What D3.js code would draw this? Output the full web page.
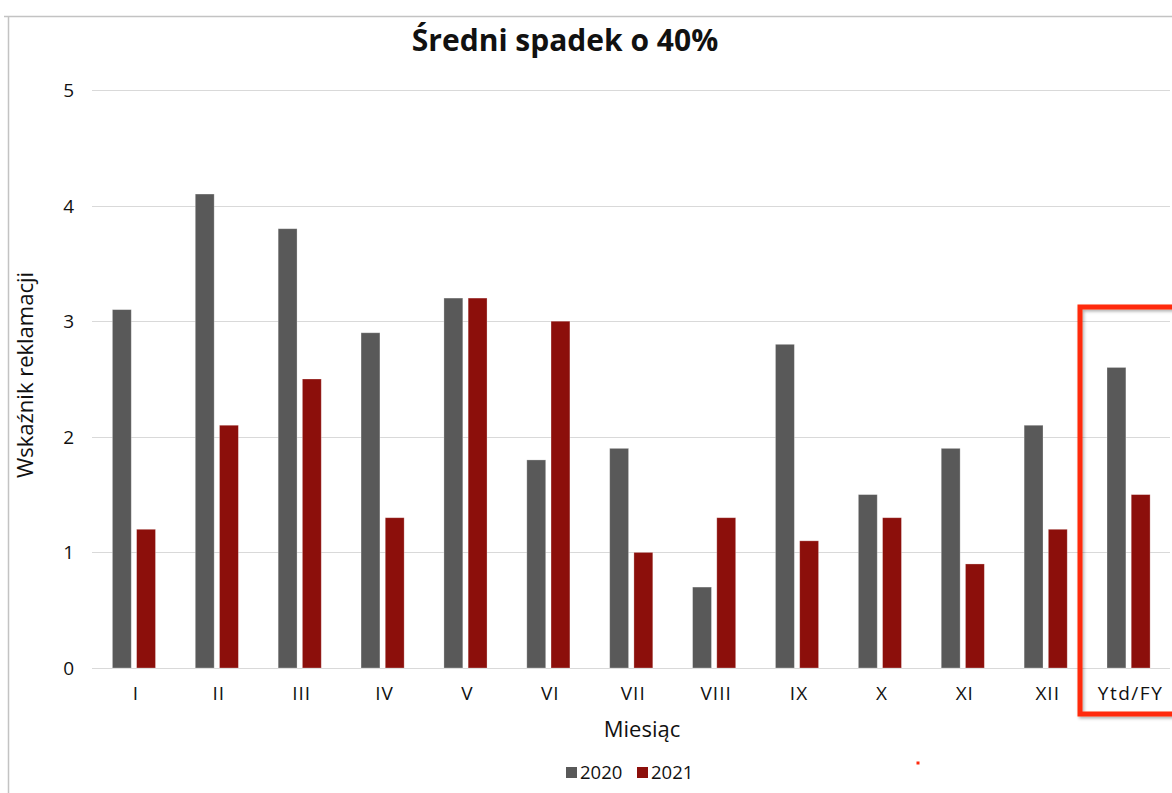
<!DOCTYPE html>
<html>
<head>
<meta charset="utf-8">
<script src="https://cdn.jsdelivr.net/npm/d3@7"></script>
<style>
  body { margin: 0; background: #fff; }
  text { font-family: "Open Sans", "Noto Sans", sans-serif; fill: #111; }
</style>
</head>
<body>
<div id="chart"></div>
<script>
var months = ['I', 'II', 'III', 'IV', 'V', 'VI', 'VII', 'VIII', 'IX', 'X', 'XI', 'XII', 'Ytd/FY']
var series = ['2020', '2021']
var values2020 = [3.1, 4.1, 3.8, 2.9, 3.2, 1.8, 1.9, 0.7, 2.8, 1.5, 1.9, 2.1, 2.6]
var values2021 = [1.2, 2.1, 2.5, 1.3, 3.2, 3.0, 1.0, 1.3, 1.1, 1.3, 0.9, 1.2, 1.5]
var yTicks = [0, 1, 2, 3, 4, 5]
var colors = { '2020': '#595959', '2021': '#8c0f0b' }

var width = 1172, height = 793

var data = months.map(function(m, i) {
    return { month: m, '2020': values2020[i], '2021': values2021[i] }
})

var svg = d3.select('#chart')
    .append('svg')
    .attr('width', width)
    .attr('height', height)

var defs = svg.append('defs')
var shadow = defs.append('filter').attr('id', 'shadow')
    .attr('x', '-5%').attr('y', '-5%').attr('width', '120%').attr('height', '120%')
shadow.append('feDropShadow')
    .attr('dx', 1.5).attr('dy', 2)
    .attr('stdDeviation', 1.5)
    .attr('flood-color', '#000')
    .attr('flood-opacity', 0.3)

// frame of the chart area
svg.append('line')
    .attr('x1', 4).attr('x2', width).attr('y1', 16.5).attr('y2', 16.5)
    .attr('stroke', '#c3c3c3').attr('stroke-width', 1.5)
svg.append('line')
    .attr('x1', 8.5).attr('x2', 8.5).attr('y1', 16).attr('y2', height)
    .attr('stroke', '#c3c3c3').attr('stroke-width', 1.5)

var x0 = d3.scaleBand()
    .domain(months)
    .range([92.5, 1170])
    .paddingInner(0.48)
    .paddingOuter(0.24)

var x1 = d3.scaleBand()
    .domain(series)
    .range([0, x0.bandwidth()])
    .paddingInner(0.22)

var y = d3.scaleLinear()
    .domain([0, 5])
    .range([668, 90])

// gridlines
svg.append('g')
    .selectAll('line')
    .data(yTicks)
    .enter()
    .append('line')
    .attr('x1', 92)
    .attr('x2', 1170)
    .attr('y1', function(d) { return Math.round(y(d)) + 0.5 })
    .attr('y2', function(d) { return Math.round(y(d)) + 0.5 })
    .attr('stroke', '#d9d9d9')
    .attr('stroke-width', 1.2)

// y tick labels
svg.append('g')
    .selectAll('text')
    .data(yTicks)
    .enter()
    .append('text')
    .attr('x', 74)
    .attr('y', function(d) { return y(d) + 7 })
    .attr('text-anchor', 'end')
    .style('font-size', '19px')
    .text(function(d) { return d })

// bars
var groups = svg.append('g')
    .selectAll('g')
    .data(data)
    .enter()
    .append('g')
    .attr('transform', function(d) { return 'translate(' + x0(d.month) + ',0)' })

groups.selectAll('rect')
    .data(function(d) {
        return series.map(function(s) { return { key: s, value: d[s] } })
    })
    .enter()
    .append('rect')
    .attr('x', function(d) { return x1(d.key) })
    .attr('y', function(d) { return y(d.value) })
    .attr('width', x1.bandwidth())
    .attr('height', function(d) { return y(0) - y(d.value) })
    .attr('fill', function(d) { return colors[d.key] })
    .attr('stroke', 'rgba(255,255,255,0.35)')
    .attr('stroke-width', 0.8)

// x labels
svg.append('g')
    .selectAll('text')
    .data(months)
    .enter()
    .append('text')
    .attr('x', function(d) { return x0(d) + x0.bandwidth() / 2 + 2 })
    .attr('y', 700)
    .attr('text-anchor', 'middle')
    .style('font-size', '19px')
    .style('letter-spacing', function(d) { return d === 'Ytd/FY' ? '1.5px' : '1px' })
    .text(function(d) { return d })

// title
svg.append('text')
    .attr('x', 565)
    .attr('y', 51)
    .attr('text-anchor', 'middle')
    .style('font-size', '30px')
    .style('font-weight', 'bold')
    .text('Średni spadek o 40%')

// axis titles
svg.append('text')
    .attr('transform', 'translate(33,375) rotate(-90)')
    .attr('text-anchor', 'middle')
    .style('font-size', '22px')
    .text('Wskaźnik reklamacji')

svg.append('text')
    .attr('x', 642)
    .attr('y', 737)
    .attr('text-anchor', 'middle')
    .style('font-size', '22px')
    .text('Miesiąc')

// legend
var legendX = [566, 637]
var legend = svg.append('g')
    .selectAll('g')
    .data(series)
    .enter()
    .append('g')
    .attr('transform', function(d, i) { return 'translate(' + legendX[i] + ',767)' })

legend.append('rect')
    .attr('width', 11)
    .attr('height', 11)
    .attr('fill', function(d) { return colors[d] })

legend.append('text')
    .attr('x', 14)
    .attr('y', 12)
    .style('font-size', '18.5px')
    .text(function(d) { return d })

// highlight box around Ytd/FY
svg.append('rect')
    .attr('x', 1080)
    .attr('y', 307)
    .attr('width', 120)
    .attr('height', 407)
    .attr('fill', 'none')
    .attr('stroke', '#ff2a0c')
    .attr('stroke-width', 5)
    .attr('filter', 'url(#shadow)')

svg.append('rect')
    .attr('x', 916.5)
    .attr('y', 761.5)
    .attr('width', 3)
    .attr('height', 3)
    .attr('fill', '#ff2a0c')
</script>
</body>
</html>
